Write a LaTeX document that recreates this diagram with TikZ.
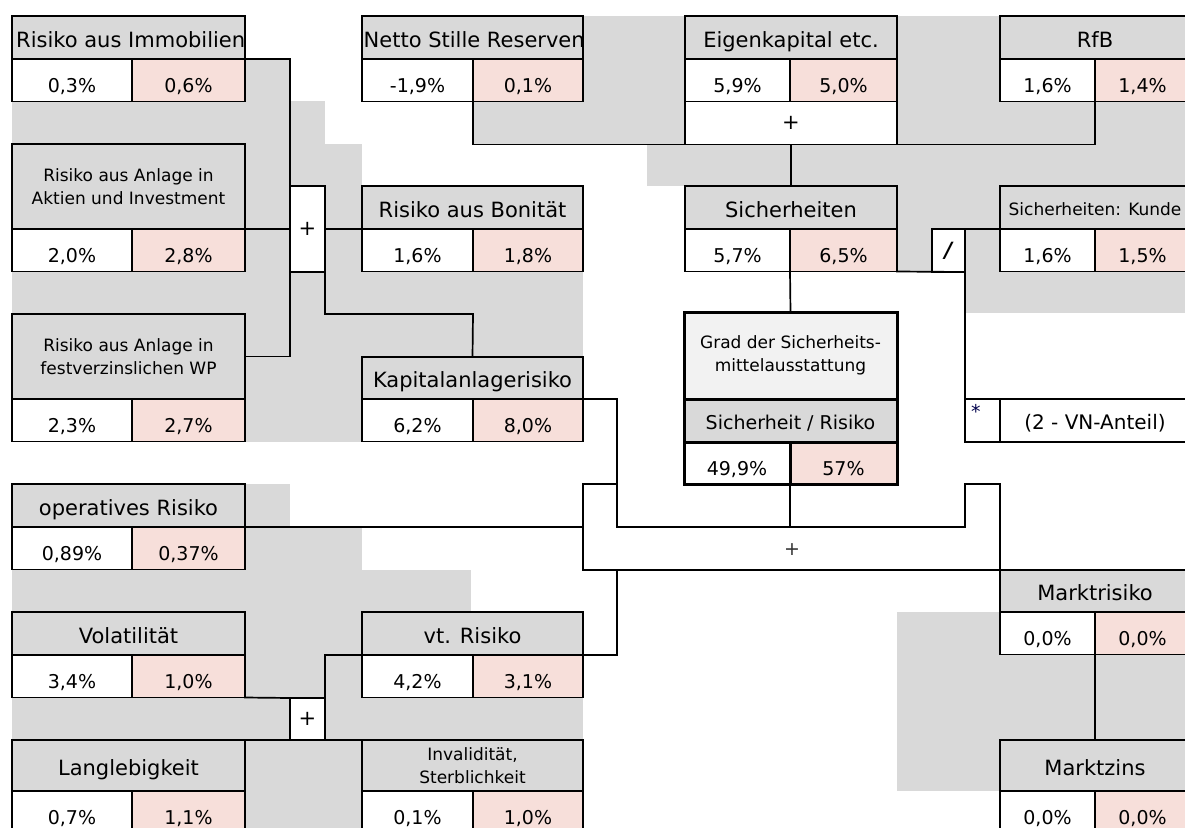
\documentclass[tikz,border=0pt]{standalone}
\usepackage{fontspec}
\setmainfont{DejaVu Sans}
\definecolor{hg}{HTML}{D9D9D9}
\definecolor{pk}{HTML}{F7DFDA}
\definecolor{lg}{HTML}{F2F2F2}
\newcommand\hfnt{\fontsize{21}{25}\selectfont}
\newcommand\sfnt{\fontsize{17}{23.5}\selectfont}
\newcommand\vfnt{\fontsize{19}{22}\selectfont}
\tikzset{
  cell/.style={draw=black, line width=1.7pt, inner sep=0pt, outer sep=0pt},
  hdr/.style={cell, fill=hg, align=center},
  big/.style={font=\hfnt, text height=19.5pt, text depth=0pt},
  small/.style={font=\sfnt},
  smallone/.style={font=\sfnt, text height=16pt, text depth=0pt},
  vl/.style={cell, fill=white, font=\vfnt, text height=25pt, text depth=0pt, minimum height=42.5pt},
  vr/.style={vl, fill=pk},
  gc/.style={draw=black, line width=3pt, inner sep=0pt, outer sep=0pt},
  conn/.style={draw=black, line width=1.7pt, line cap=rect},
}
\newcommand\riskbox[9]{%
  \node[hdr,#7,minimum width=#4pt,minimum height=#5pt,anchor=north west] (#1) at (#2,#3) {#8};
  \node[vl,minimum width=#6pt,anchor=north west] (#1l) at (#1.south west) {#9};
  \pgfmathsetmacro\rbwr{#4-#6}%
  \def\rbname{#1}%
  \riskboxR}
\newcommand\riskboxR[1]{%
  \node[vr,minimum width=\rbwr pt,anchor=north west] (\rbname r) at (\rbname l.north east) {#1};}
\begin{document}
\begin{tikzpicture}[x=1pt,y=-1pt]
\useasboundingbox (0,0) rectangle (1185,827);
\clip (0,0) rectangle (1185,827);
\fill[white] (0,0) rectangle (1185,827);
% grey background areas
\foreach \a/\b/\c/\d in {245/59/290/101, 12/101/290/144, 290/101/325/186, 245/144/290/442,
  325/144/362/442, 290/272/325/442, 12/272/245/314, 362/272/583/357, 245/484/290/527,
  245/527/362/570, 12/570/471/612, 245/612/362/740, 12/698/290/740, 362/698/583/740,
  245/740/362/830, 583/16/685/144, 473/101/583/144, 647/144/1190/186, 897/16/1000/186,
  1000/101/1190/144, 897/186/1000/229, 897/186/932/272, 965/186/1000/272, 965/272/1190/313,
  897/612/1000/791, 1000/655/1190/740}
  {\fill[hg] (\a,\b) rectangle (\c,\d);}
% boxes
\riskbox{imm}{12}{16}{233}{43}{120}{big}{}{0,3\%}{0,6\%}
\riskbox{akt}{12}{144}{233}{85}{120}{small}{Risiko aus Anlage in\\Aktien und Investment}{2,0\%}{2,8\%}
\riskbox{fest}{12}{314}{233}{85}{120}{small}{Risiko aus Anlage in\\festverzinslichen WP}{2,3\%}{2,7\%}
\riskbox{net}{362}{16}{221}{43}{111}{big}{}{-1,9\%}{0,1\%}
\riskbox{boni}{362}{186}{221}{43}{111}{big}{Risiko aus Bonität}{1,6\%}{1,8\%}
\riskbox{kap}{362}{357}{221}{42}{111}{big}{Kapitalanlagerisiko}{6,2\%}{8,0\%}
\riskbox{oper}{12}{484}{233}{43}{120}{big}{operatives Risiko}{0,89\%}{0,37\%}
\riskbox{vola}{12}{612}{233}{43}{120}{big}{Volatilität}{3,4\%}{1,0\%}
\riskbox{vtr}{362}{612}{221}{43}{111}{big}{vt. Risiko}{4,2\%}{3,1\%}
\riskbox{lang}{12}{740}{233}{51}{120}{big}{Langlebigkeit}{0,7\%}{1,1\%}
\riskbox{inv}{362}{740}{221}{51}{111}{small}{Invalidität,\\Sterblichkeit}{0,1\%}{1,0\%}
\riskbox{eig}{685}{16}{212}{43}{105}{big}{Eigenkapital etc.}{5,9\%}{5,0\%}
\riskbox{sich}{685}{186}{212}{43}{105}{big}{Sicherheiten}{5,7\%}{6,5\%}
\riskbox{rfb}{1000}{16}{190}{43}{95}{big}{RfB}{1,6\%}{1,4\%}
\riskbox{kun}{1000}{186}{190}{43}{95}{smallone}{Sicherheiten: Kunde}{1,6\%}{1,5\%}
\riskbox{mrk}{1000}{570}{190}{42}{95}{big}{Marktrisiko}{0,0\%}{0,0\%}
\riskbox{mz}{1000}{740}{190}{51}{95}{big}{Marktzins}{0,0\%}{0,0\%}
% clipped header texts
\begin{scope}
  \clip (imm.south west) rectangle (imm.north east);
  \node[anchor=west,inner sep=0pt,big] (immt) at ([xshift=4pt]imm.west) {Risiko aus Immobilien};
\end{scope}
\begin{scope}
  \clip (net.south west) rectangle (net.north east);
  \node[anchor=west,inner sep=0pt,big] (nett) at ([xshift=1.5pt]net.west) {Netto Stille Reserven};
\end{scope}
% operator cells
\node[cell,fill=white,minimum width=212pt,minimum height=43pt,anchor=north west,font=\hfnt] (eigp) at (eigl.south west) {+};
\node[cell,fill=white,minimum width=35pt,minimum height=86pt,anchor=north west,font=\hfnt] (plusA) at (290,186) {+};
\node[cell,fill=white,minimum width=35pt,minimum height=42pt,anchor=north west,font=\hfnt] (plusB) at (290,698) {+};
\node[cell,fill=white,minimum width=33pt,minimum height=43pt,anchor=north west,font=\hfnt\bfseries\itshape] (slash) at (932,229) {/};
\node[cell,fill=white,minimum width=35pt,minimum height=43pt,anchor=north west] (star) at (965,399) {};
\node[anchor=north west,inner sep=0pt,font=\fontsize{19}{19}\selectfont,text=black!70!blue] (stt) at ([xshift=6pt,yshift=-5pt]star.north west) {*};
\node[cell,fill=white,minimum width=190pt,minimum height=43pt,anchor=north west,font=\fontsize{20}{24}\selectfont,text height=18.5pt,text depth=0pt] (vn) at (star.north east) {(2 - VN-Anteil)};
% result box
\node[gc,fill=lg,minimum width=213pt,minimum height=87pt,anchor=north west,font=\sfnt,align=center] (grad) at (684,312) {Grad der Sicherheits-\\mittelausstattung};
\node[gc,fill=hg,minimum width=213pt,minimum height=43pt,anchor=north west,font=\fontsize{19}{23}\selectfont,text height=17.5pt,text depth=0pt] (gsr) at (grad.south west) {Sicherheit / Risiko};
\node[gc,fill=white,minimum width=106pt,minimum height=42pt,anchor=north west,font=\vfnt,text height=25pt,text depth=0pt] (gradl) at (gsr.south west) {49,9\%};
\node[gc,fill=pk,minimum width=107pt,minimum height=42pt,anchor=north west,font=\vfnt,text height=25pt,text depth=0pt] (gradr) at (gradl.north east) {57\%};
\node[inner sep=0pt,font=\fontsize{19}{19}\selectfont,text=black!80] (cplus) at (792,550) {+};
% connectors
\draw[conn] (imm.south east) -| (plusA.north west);
\draw[conn] (plusA.south west) |- (fest.east);
\draw[conn] (akt.south east) -- (plusA.west);
\draw[conn] (plusA.east) -- (boni.south west);
\draw[conn] (plusA.south east) |- (kapl.north east |- fest.north) -- (kap.north);
\draw[conn] (netl.south east) |- (eigp.south west);
\draw[conn] (rfbl.south east) |- (eigp.south east);
\draw[conn] (eigp.south) -- (sich.north);
\draw[conn] (sichl.south east) -- (grad.north);
\draw[conn] (sichr.south east) -- (slash.south east);
\draw[conn] (slash.north east) -- (kun.south west);
\draw[conn] (slash.south east) -- (star.north west);
\coordinate (cA) at (583,484);
\coordinate (cB) at (617,484);
\coordinate (cC) at (617,527);
\coordinate (cD) at (965,527);
\coordinate (cF) at (1000,484);
\coordinate (cG) at (1000,570);
\coordinate (cH) at (583,570);
\coordinate (cI) at (617,570);
\draw[conn] (kapr.north east) -| (cC) -- (cD) |- (cF) -- (mrk.north west);
\draw[conn] (oper.south east) -- (oper.south east -| cA);
\draw[conn] (cB) -- (cA) -- (cH) -- (cG);
\draw[conn] (gradl.south east) -- (gradl.south east |- cC);
\draw[conn] (cI) |- (vtr.south east);
\draw[conn] (vtr.south west) -| (plusB.north east);
\draw[conn] (volar.south east) -- (plusB.north west);
\draw[conn] (lang.north east) -- (plusB.south west);
\draw[conn] (plusB.south east) -- (inv.north west);
\draw[conn] (mrkl.south east) -- (mz.north);
\end{tikzpicture}
\end{document}
